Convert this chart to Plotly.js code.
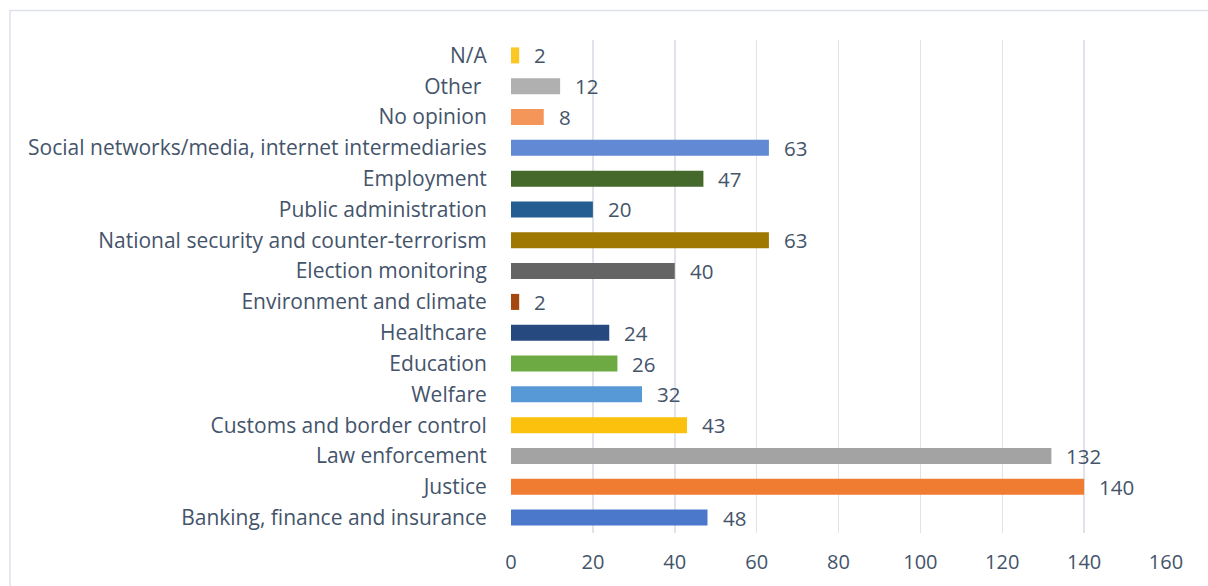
<!DOCTYPE html>
<html>
<head>
<meta charset="utf-8">
<script src="https://cdn.plot.ly/plotly-3.0.1.min.js"></script>
<style>html,body{margin:0;padding:0;background:#fff;}#chart{width:1208px;height:586px;}</style>
</head>
<body>
<div id="chart"></div>
<script>
const categories = [
  "Banking, finance and insurance",
  "Justice",
  "Law enforcement",
  "Customs and border control",
  "Welfare",
  "Education",
  "Healthcare",
  "Environment and climate",
  "Election monitoring",
  "National security and counter-terrorism",
  "Public administration",
  "Employment",
  "Social networks/media, internet intermediaries",
  "No opinion",
  "Other ",
  "N/A"
];
const values = [48, 140, 132, 43, 32, 26, 24, 2, 40, 63, 20, 47, 63, 8, 12, 2];
const barColors = [
  "#4C78CC", "#EF7C30", "#A3A3A3", "#FCC10C", "#5799D6", "#6DAA43",
  "#264A80", "#A4480F", "#646464", "#9E7800", "#245D92", "#44692A",
  "#6189D4", "#F4955A", "#B0B0B0", "#FBC725"
];
const xTicks = [0, 20, 40, 60, 80, 100, 120, 140, 160];

const textColor = "#44546A";
const fontFam = "'Open Sans', Lato, sans-serif";

const plotL = 511, plotR = 1166, plotT = 40, plotB = 533, W = 1208, H = 586;
const pw = plotR - plotL, ph = plotB - plotT;

const annotations = categories.map((c, i) => ({
  x: values[i], y: c, xref: "x", yref: "y",
  text: String(values[i]), showarrow: false,
  xanchor: "left", xshift: 13,
  font: {family: fontFam, size: 20.5, color: textColor}
}));

const data = [{
  type: "bar",
  orientation: "h",
  x: values,
  y: categories,
  marker: {color: barColors, line: {width: 0}},
  hoverinfo: "none"
}];

const layout = {
  width: W, height: H,
  margin: {l: plotL, r: W - plotR, t: plotT, b: H - plotB, pad: 0},
  paper_bgcolor: "#ffffff",
  plot_bgcolor: "#ffffff",
  showlegend: false,
  bargap: 0.48,
  font: {family: fontFam, color: textColor},
  xaxis: {
    range: [0, 160],
    tickvals: xTicks,
    ticktext: xTicks.map(String),
    showgrid: true, gridcolor: "#E0E4EA", gridwidth: 1.5,
    zeroline: false, showline: false,
    ticks: "outside", ticklen: 11, tickcolor: "rgba(0,0,0,0)",
    tickfont: {family: fontFam, size: 20, color: textColor},
    fixedrange: true
  },
  yaxis: {
    type: "category",
    categoryorder: "array",
    categoryarray: categories,
    range: [-0.5, categories.length - 0.5],
    showgrid: false, zeroline: false, showline: false,
    ticks: "outside", ticklen: 19, tickcolor: "rgba(0,0,0,0)",
    tickfont: {family: fontFam, size: 21, color: textColor},
    fixedrange: true
  },
  shapes: [{
    type: "rect", xref: "paper", yref: "paper",
    x0: (10 - plotL) / pw, x1: (W + 20 - plotL) / pw,
    y0: -(H + 20 - plotB) / ph, y1: (plotB - 10.5) / ph,
    line: {color: "#DDE2EA", width: 1.5},
    fillcolor: "rgba(0,0,0,0)", layer: "below"
  }],
  annotations: annotations
};

Plotly.newPlot("chart", data, layout, {displayModeBar: false, staticPlot: true});
</script>
</body>
</html>
